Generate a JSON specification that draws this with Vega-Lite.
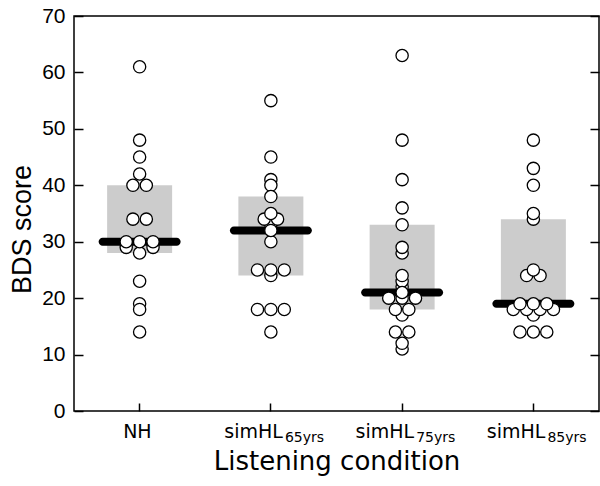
{
  "$schema": "https://vega.github.io/schema/vega-lite/v6.json",
  "width": 525,
  "height": 395,
  "autosize": {"type": "none"},
  "padding": {"left": 74, "top": 16, "right": 1, "bottom": 75},
  "background": "white",
  "config": {
    "view": {"stroke": "black", "strokeWidth": 1.5},
    "axis": {
      "domain": false,
      "grid": false,
      "tickColor": "black",
      "tickWidth": 1.5,
      "labelColor": "black",
      "titleColor": "black",
      "titleFontWeight": "normal",
      "labelOverlap": false
    }
  },
  "datasets": {
    "summary": [
      {"cond": "NH", "q1": 28, "median": 30, "q3": 40},
      {"cond": "simHL65yrs", "q1": 24, "median": 32, "q3": 38},
      {"cond": "simHL75yrs", "q1": 18, "median": 21, "q3": 33},
      {"cond": "simHL85yrs", "q1": 19.5, "median": 19, "q3": 34}
    ],
    "scores": [
      {"cond": "NH", "score": 61, "lane": 0},
      {"cond": "NH", "score": 48, "lane": 0},
      {"cond": "NH", "score": 45, "lane": 0},
      {"cond": "NH", "score": 42, "lane": 0},
      {"cond": "NH", "score": 40, "lane": -1},
      {"cond": "NH", "score": 40, "lane": 1},
      {"cond": "NH", "score": 34, "lane": -1},
      {"cond": "NH", "score": 34, "lane": 1},
      {"cond": "NH", "score": 29, "lane": -2},
      {"cond": "NH", "score": 29, "lane": 2},
      {"cond": "NH", "score": 28, "lane": 0},
      {"cond": "NH", "score": 30, "lane": -2},
      {"cond": "NH", "score": 30, "lane": 0},
      {"cond": "NH", "score": 30, "lane": 2},
      {"cond": "NH", "score": 23, "lane": 0},
      {"cond": "NH", "score": 19, "lane": 0},
      {"cond": "NH", "score": 18, "lane": 0},
      {"cond": "NH", "score": 14, "lane": 0},
      {"cond": "simHL65yrs", "score": 55, "lane": 0},
      {"cond": "simHL65yrs", "score": 45, "lane": 0},
      {"cond": "simHL65yrs", "score": 41, "lane": 0},
      {"cond": "simHL65yrs", "score": 40, "lane": 0},
      {"cond": "simHL65yrs", "score": 38, "lane": 0},
      {"cond": "simHL65yrs", "score": 33, "lane": 0},
      {"cond": "simHL65yrs", "score": 34, "lane": -1},
      {"cond": "simHL65yrs", "score": 34, "lane": 1},
      {"cond": "simHL65yrs", "score": 35, "lane": 0},
      {"cond": "simHL65yrs", "score": 30, "lane": 0},
      {"cond": "simHL65yrs", "score": 32, "lane": 0},
      {"cond": "simHL65yrs", "score": 24, "lane": 0},
      {"cond": "simHL65yrs", "score": 25, "lane": -2},
      {"cond": "simHL65yrs", "score": 25, "lane": 0},
      {"cond": "simHL65yrs", "score": 25, "lane": 2},
      {"cond": "simHL65yrs", "score": 18, "lane": -2},
      {"cond": "simHL65yrs", "score": 18, "lane": 0},
      {"cond": "simHL65yrs", "score": 18, "lane": 2},
      {"cond": "simHL65yrs", "score": 14, "lane": 0},
      {"cond": "simHL75yrs", "score": 63, "lane": 0},
      {"cond": "simHL75yrs", "score": 48, "lane": 0},
      {"cond": "simHL75yrs", "score": 41, "lane": 0},
      {"cond": "simHL75yrs", "score": 36, "lane": 0},
      {"cond": "simHL75yrs", "score": 33, "lane": 0},
      {"cond": "simHL75yrs", "score": 28, "lane": 0},
      {"cond": "simHL75yrs", "score": 29, "lane": 0},
      {"cond": "simHL75yrs", "score": 22, "lane": 0},
      {"cond": "simHL75yrs", "score": 23, "lane": 0},
      {"cond": "simHL75yrs", "score": 24, "lane": 0},
      {"cond": "simHL75yrs", "score": 17, "lane": 0},
      {"cond": "simHL75yrs", "score": 18, "lane": -1},
      {"cond": "simHL75yrs", "score": 18, "lane": 1},
      {"cond": "simHL75yrs", "score": 20, "lane": -2},
      {"cond": "simHL75yrs", "score": 20, "lane": 2},
      {"cond": "simHL75yrs", "score": 20, "lane": 0},
      {"cond": "simHL75yrs", "score": 21, "lane": 0},
      {"cond": "simHL75yrs", "score": 11, "lane": 0},
      {"cond": "simHL75yrs", "score": 12, "lane": 0},
      {"cond": "simHL75yrs", "score": 14, "lane": -1},
      {"cond": "simHL75yrs", "score": 14, "lane": 1},
      {"cond": "simHL85yrs", "score": 48, "lane": 0},
      {"cond": "simHL85yrs", "score": 43, "lane": 0},
      {"cond": "simHL85yrs", "score": 40, "lane": 0},
      {"cond": "simHL85yrs", "score": 34, "lane": 0},
      {"cond": "simHL85yrs", "score": 35, "lane": 0},
      {"cond": "simHL85yrs", "score": 24, "lane": -1},
      {"cond": "simHL85yrs", "score": 24, "lane": 1},
      {"cond": "simHL85yrs", "score": 25, "lane": 0},
      {"cond": "simHL85yrs", "score": 17, "lane": 0},
      {"cond": "simHL85yrs", "score": 18, "lane": -3},
      {"cond": "simHL85yrs", "score": 18, "lane": -1},
      {"cond": "simHL85yrs", "score": 18, "lane": 1},
      {"cond": "simHL85yrs", "score": 18, "lane": 3},
      {"cond": "simHL85yrs", "score": 19, "lane": -2},
      {"cond": "simHL85yrs", "score": 19, "lane": 0},
      {"cond": "simHL85yrs", "score": 19, "lane": 2},
      {"cond": "simHL85yrs", "score": 14, "lane": -2},
      {"cond": "simHL85yrs", "score": 14, "lane": 0},
      {"cond": "simHL85yrs", "score": 14, "lane": 2}
    ]
  },
  "layer": [
    {
      "data": {"name": "summary"},
      "mark": {"type": "bar", "color": "#cccccc", "width": 65},
      "encoding": {
        "x": {
          "field": "cond",
          "type": "nominal",
          "sort": ["NH", "simHL65yrs", "simHL75yrs", "simHL85yrs"],
          "scale": {"paddingInner": 0, "paddingOuter": 0},
          "axis": {
            "orient": "bottom",
            "labelExpr": "datum.value == 'NH' ? 'NH' : 'simHL'",
            "labelAngle": 0,
            "labelAlign": "right",
            "labelBaseline": "top",
            "labelOffset": 12,
            "labelPadding": 19,
            "labelFont": "DejaVu Sans",
            "labelFontSize": 19,
            "tickSize": -8,
            "title": "Listening condition",
            "titleFont": "DejaVu Sans",
            "titleFontSize": 26,
            "titlePadding": 7
          }
        },
        "y": {
          "field": "q1",
          "type": "quantitative",
          "scale": {"domain": [0, 70], "nice": false},
          "axis": {
            "orient": "left",
            "values": [0, 10, 20, 30, 40, 50, 60, 70],
            "tickSize": -9,
            "labelPadding": 18,
            "labelFlush": false,
            "labelFont": "Liberation Sans",
            "labelFontSize": 21,
            "title": "BDS score",
            "titleFont": "Liberation Sans",
            "titleFontSize": 27,
            "titlePadding": 5,
            "titleY": 213
          }
        },
        "y2": {"field": "q3"}
      }
    },
    {
      "data": {"name": "summary"},
      "mark": {"type": "tick", "color": "black", "thickness": 8, "size": 82, "cornerRadius": 4, "opacity": 1},
      "encoding": {
        "x": {
          "field": "cond",
          "type": "nominal",
          "sort": ["NH", "simHL65yrs", "simHL75yrs", "simHL85yrs"],
          "axis": {
            "orient": "bottom",
            "labelExpr": "datum.value == 'NH' ? '' : replace(datum.value, 'simHL', '')",
            "labelAngle": 0,
            "labelAlign": "left",
            "labelBaseline": "top",
            "labelOffset": 14,
            "labelPadding": 19,
            "labelFont": "DejaVu Sans",
            "labelFontSize": 14,
            "ticks": false,
            "title": null
          }
        },
        "y": {
          "field": "median",
          "type": "quantitative",
          "axis": {
            "orient": "right",
            "values": [0, 10, 20, 30, 40, 50, 60, 70],
            "labels": false,
            "tickSize": -9,
            "title": null
          }
        }
      }
    },
    {
      "data": {"name": "scores"},
      "mark": {"type": "circle", "size": 150, "fill": "white", "stroke": "black", "strokeWidth": 1.3, "opacity": 1},
      "encoding": {
        "x": {"field": "cond", "type": "nominal", "sort": ["NH", "simHL65yrs", "simHL75yrs", "simHL85yrs"], "axis": null},
        "xOffset": {
          "field": "lane",
          "type": "quantitative",
          "scale": {"domain": [-4, 4], "range": [38.825, 92.425]}
        },
        "y": {"field": "score", "type": "quantitative", "axis": null}
      }
    }
  ],
  "resolve": {
    "axis": {"x": "independent", "y": "independent"},
    "scale": {"xOffset": "independent"}
  }
}
